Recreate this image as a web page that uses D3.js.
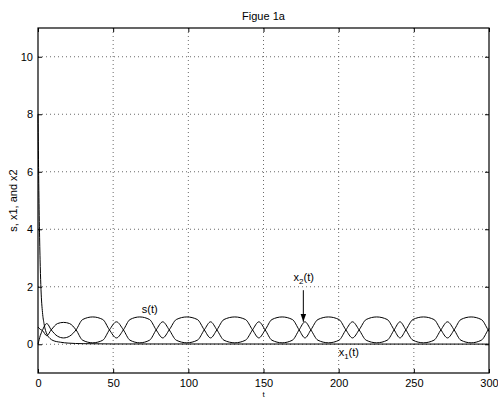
<!DOCTYPE html>
<html>
<head>
<meta charset="utf-8">
<script src="https://cdn.jsdelivr.net/npm/d3@7"></script>
<style>
  body { margin: 0; background: #fff; }
  svg { font-family: "Liberation Sans", Arial, sans-serif; }
</style>
</head>
<body>
<div id="chart"></div>
<script>
// Values (t on the x axis)
var xTicks = [0, 50, 100, 150, 200, 250, 300];
var yTicks = [0, 2, 4, 6, 8, 10];

var x1Times  = [0, 0.5, 1, 1.5, 2, 3, 4, 5, 6, 8, 10, 15, 20, 30, 50, 300];
var x1Values = [8, 5.6, 3.9, 2.7, 1.9, 1.1, 0.72, 0.48, 0.34, 0.2, 0.13, 0.07, 0.04, 0.02, 0.01, 0.005];

var sTimes = [0, 1.5, 2.9, 5.8, 8.8, 13, 17, 21, 25.3, 29.7, 36.4, 43.1, 47.5, 52.2, 56.8,
  61.2, 67.7, 74.2, 78.6, 83.0, 87.3, 92.0, 99.0, 106.0, 110.6, 114.8, 119.0,
  123.7, 130.9, 138.0, 142.7, 146.9, 151.1, 155.6, 162.4, 169.2, 173.7, 177.6, 181.5,
  186.2, 193.2, 200.2, 204.8, 209.2, 213.6, 218.3, 225.3, 232.3, 236.9, 240.8, 244.7,
  249.4, 256.4, 263.4, 268.0, 272.4, 276.8, 281.3, 288.1, 294.9, 299.4, 300];
var sValues = [0, 0.3, 0.48, 0.72, 0.5, 0.28, 0.22, 0.28, 0.5, 0.86, 0.95, 0.86, 0.5, 0.22, 0.5,
  0.86, 0.95, 0.86, 0.5, 0.22, 0.5, 0.86, 0.95, 0.86, 0.5, 0.22, 0.5,
  0.86, 0.95, 0.86, 0.5, 0.22, 0.5, 0.86, 0.95, 0.86, 0.5, 0.22, 0.5,
  0.86, 0.95, 0.86, 0.5, 0.22, 0.5, 0.86, 0.95, 0.86, 0.5, 0.22, 0.5,
  0.86, 0.95, 0.86, 0.5, 0.22, 0.5, 0.86, 0.95, 0.86, 0.5, 0.45];
var x2Values = [0.6, 0.52, 0.48, 0.3, 0.5, 0.72, 0.76, 0.72, 0.5, 0.14, 0.05, 0.14, 0.5, 0.78, 0.5,
  0.14, 0.05, 0.14, 0.5, 0.78, 0.5, 0.14, 0.05, 0.14, 0.5, 0.78, 0.5,
  0.14, 0.05, 0.14, 0.5, 0.78, 0.5, 0.14, 0.05, 0.14, 0.5, 0.78, 0.5,
  0.14, 0.05, 0.14, 0.5, 0.78, 0.5, 0.14, 0.05, 0.14, 0.5, 0.78, 0.5,
  0.14, 0.05, 0.14, 0.5, 0.78, 0.5, 0.14, 0.05, 0.14, 0.5, 0.55];

var width = 498, height = 399;
var margin = { top: 28, right: 9, bottom: 26, left: 38 };
var plotW = width - margin.left - margin.right;
var plotH = height - margin.top - margin.bottom;

var x = d3.scaleLinear().domain([0, 300]).range([0, plotW]);
var y = d3.scaleLinear().domain([-1, 11]).range([plotH, 0]);

var svg = d3.select('#chart').append('svg')
  .attr('width', width).attr('height', height)
  .attr('viewBox', `0 0 ${width} ${height}`);

svg.append('defs').append('marker')
  .attr('id', 'arrow')
  .attr('viewBox', '0 0 10 10')
  .attr('refX', 10).attr('refY', 5)
  .attr('markerWidth', 8).attr('markerHeight', 8)
  .attr('markerUnits', 'userSpaceOnUse')
  .attr('orient', 'auto')
  .append('path').attr('d', 'M0,1.5L10,5L0,8.5Z').attr('fill', '#000');

var g = svg.append('g').attr('transform', `translate(${margin.left},${margin.top})`);

// dotted grid
g.append('g').selectAll('line').data(xTicks.slice(1, -1)).join('line')
  .attr('x1', (d) => x(d)).attr('x2', (d) => x(d))
  .attr('y1', 0).attr('y2', plotH)
  .attr('stroke', '#444').attr('stroke-width', 0.8).attr('stroke-dasharray', '1,3');
g.append('g').selectAll('line').data(yTicks).join('line')
  .attr('y1', (d) => y(d)).attr('y2', (d) => y(d))
  .attr('x1', 0).attr('x2', plotW)
  .attr('stroke', '#444').attr('stroke-width', 0.8).attr('stroke-dasharray', '1,3');

// axes, ticks pointing inwards
function styleAxis(sel) {
  sel.select('.domain').remove();
  sel.selectAll('.tick line').attr('stroke', '#000');
  sel.selectAll('.tick text').attr('font-size', 11).attr('fill', '#000');
}
g.append('g').attr('transform', `translate(0,${plotH})`)
  .call(d3.axisBottom(x).tickValues(xTicks).tickSizeInner(-4).tickSizeOuter(0).tickPadding(6))
  .call(styleAxis);
g.append('g')
  .call(d3.axisTop(x).tickValues(xTicks).tickSizeInner(-4).tickSizeOuter(0).tickFormat(''))
  .call(styleAxis);
g.append('g')
  .call(d3.axisLeft(y).tickValues(yTicks).tickSizeInner(-4).tickSizeOuter(0).tickPadding(5))
  .call(styleAxis);
g.append('g').attr('transform', `translate(${plotW},0)`)
  .call(d3.axisRight(y).tickValues(yTicks).tickSizeInner(-4).tickSizeOuter(0).tickFormat(''))
  .call(styleAxis);

// curves
var line = d3.line().x((d) => x(d[0])).y((d) => y(d[1])).curve(d3.curveMonotoneX);
var series = [d3.zip(x1Times, x1Values), d3.zip(sTimes, sValues), d3.zip(sTimes, x2Values)];
g.append('g').selectAll('path').data(series).join('path')
  .attr('d', line).attr('fill', 'none').attr('stroke', '#000').attr('stroke-width', 1);

// box
g.append('rect').attr('width', plotW).attr('height', plotH)
  .attr('fill', 'none').attr('stroke', '#000').attr('stroke-width', 1.2);

// annotations
g.append('text').attr('x', x(69)).attr('y', y(1.08)).attr('font-size', 11).text('s(t)');

var lx2 = g.append('text').attr('x', x(170)).attr('y', y(2.2)).attr('font-size', 11);
lx2.append('tspan').text('x');
lx2.append('tspan').attr('font-size', 8).attr('dy', 3).text('2');
lx2.append('tspan').attr('dy', -3).text('(t)');
g.append('line')
  .attr('x1', x(176.5)).attr('x2', x(176.5))
  .attr('y1', y(1.88)).attr('y2', y(0.78))
  .attr('stroke', '#000').attr('stroke-width', 1).attr('marker-end', 'url(#arrow)');

var lx1 = g.append('text').attr('x', x(200)).attr('y', y(-0.4)).attr('font-size', 11);
lx1.append('tspan').text('x');
lx1.append('tspan').attr('font-size', 8).attr('dy', 3).text('1');
lx1.append('tspan').attr('dy', -3).text('(t)');

// titles
svg.append('text').attr('x', margin.left + plotW / 2).attr('y', 397)
  .attr('text-anchor', 'middle').attr('font-size', 8).text('t');
svg.append('text').attr('x', margin.left + plotW / 2).attr('y', 20)
  .attr('text-anchor', 'middle').attr('font-size', 11).text('Figue 1a');
svg.append('text').attr('transform', `translate(17,${margin.top + plotH / 2}) rotate(-90)`)
  .attr('text-anchor', 'middle').attr('font-size', 11).text('s, x1, and x2');
</script>
</body>
</html>
